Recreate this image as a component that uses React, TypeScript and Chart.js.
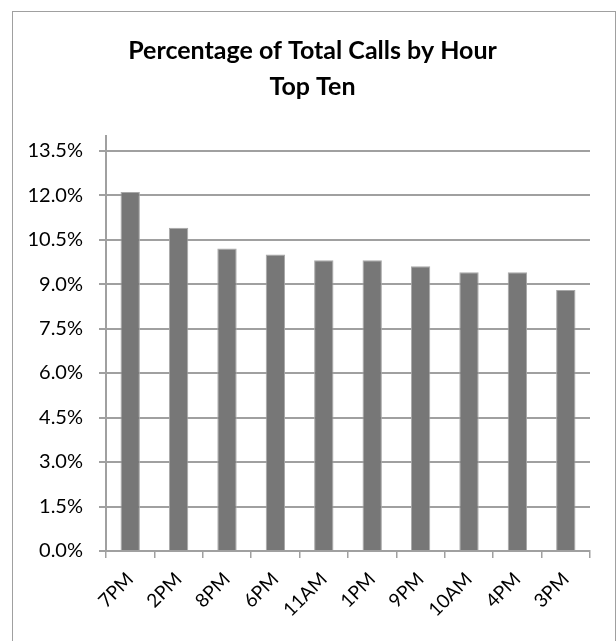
import React, { useEffect, useRef } from "react";
import { Chart, registerables } from "chart.js";

Chart.register(...registerables);

const categories = ["7PM", "2PM", "8PM", "6PM", "11AM", "1PM", "9PM", "10AM", "4PM", "3PM"];
const percentages = [12.1, 10.9, 10.2, 10.0, 9.8, 9.8, 9.6, 9.4, 9.4, 8.8];
const titleLines = ["Percentage of Total Calls by Hour", "Top Ten"];
const yMin = 0;
const yMax = 14;
const yStep = 1.5;

const FONT = "Lato, 'Noto Sans', sans-serif";

export default function App() {
  const canvasRef = useRef<HTMLCanvasElement | null>(null);

  useEffect(() => {
    document.body.style.margin = "0";
    document.body.style.overflow = "hidden";
    const canvas = canvasRef.current;
    if (!canvas) return;
    const chart = new Chart(canvas, {
      type: "bar",
      data: {
        labels: categories,
        datasets: [
          {
            data: percentages,
            backgroundColor: "#777777",
            borderColor: "#a8a8a8",
            borderWidth: 1,
            barPercentage: 0.4,
            categoryPercentage: 1,
          },
        ],
      },
      options: {
        responsive: false,
        animation: false,
        devicePixelRatio: 1,
        layout: { padding: { left: 9, right: 0, top: 0, bottom: 0 } },
        plugins: {
          legend: { display: false },
          tooltip: { enabled: false },
          title: {
            display: true,
            text: titleLines,
            color: "#000000",
            font: { family: FONT, size: 25, weight: "bold", lineHeight: 1.43 },
            padding: { top: 33, bottom: 31.25 },
          },
        },
        scales: {
          x: {
            grid: {
              display: true,
              drawOnChartArea: false,
              drawTicks: true,
              tickLength: 7,
              color: "#a0a0a0",
              lineWidth: 1.5,
              offset: true,
            },
            border: { display: true, color: "#a0a0a0", width: 2 },
            ticks: {
              color: "#000000",
              font: { family: FONT, size: 19 },
              minRotation: 45,
              maxRotation: 45,
              padding: 10,
              autoSkip: false,
            },
            afterFit: (scale: any) => {
              scale.height = 90;
            },
          },
          y: {
            min: yMin,
            max: yMax,
            grid: {
              color: "#a0a0a0",
              lineWidth: 2,
              tickLength: 7,
              drawTicks: true,
            },
            border: { display: true, color: "#a0a0a0", width: 2 },
            ticks: {
              stepSize: yStep,
              includeBounds: false,
              color: "#000000",
              font: { family: FONT, size: 20 },
              padding: 16,
              callback: (v: any) => Number(v).toFixed(1) + "%",
            },
            afterFit: (scale: any) => {
              scale.width = 97;
            },
          },
          yRight: {
            position: "right",
            display: true,
            grid: { display: false, drawOnChartArea: false, drawTicks: false },
            border: { display: false },
            ticks: { display: false },
            afterFit: (scale: any) => {
              scale.width = 26;
            },
          },
        },
      },
    });
    return () => chart.destroy();
  }, []);

  return (
    <div style={{ position: "relative", width: 616, height: 641, overflow: "hidden", background: "#ffffff" }}>
      <div
        style={{
          position: "absolute",
          left: 12,
          top: 11,
          width: 602,
          height: 660,
          border: "1.5px solid #a0a0a0",
          boxSizing: "content-box",
        }}
      />
      <canvas ref={canvasRef} width={616} height={641} style={{ position: "absolute", left: 0, top: 0 }} />
    </div>
  );
}
